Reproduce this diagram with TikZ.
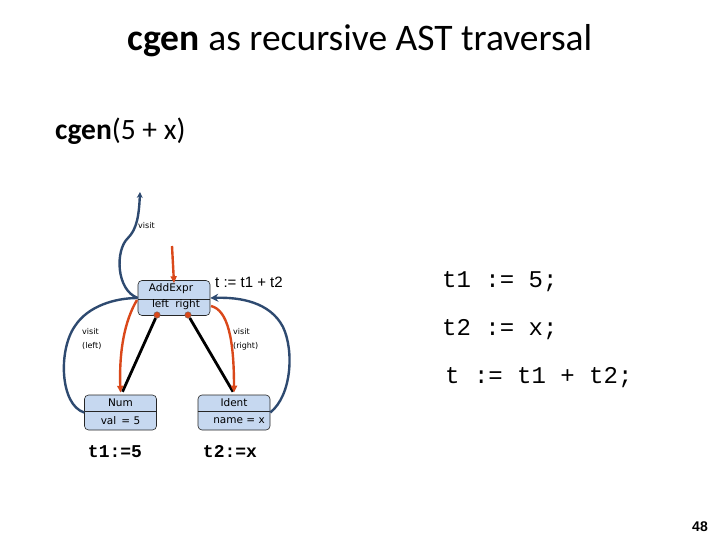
\documentclass[tikz,border=0pt]{standalone}
\usepackage{fontspec}
\setmainfont{Carlito}
\newfontfamily\diafont{Liberation Sans}
\newfontfamily\boxfont{DejaVu Sans}
\newfontfamily\codefont{Liberation Mono}
\usetikzlibrary{arrows.meta}
\definecolor{bluel}{RGB}{46,74,112}
\definecolor{oran}{RGB}{218,72,26}
\definecolor{boxfill}{RGB}{198,216,240}
\begin{document}
\begin{tikzpicture}[x=1pt,y=-1pt,
  astbox/.style={draw=black!85, line width=0.6pt, fill=boxfill, rounded corners=4pt, minimum width=72pt, minimum height=35pt, inner sep=0pt},
  boxtxt/.style={font=\boxfont\fontsize{10.5}{12}\selectfont, inner sep=0pt},
  small/.style={font=\boxfont\fontsize{8}{14}\selectfont, inner sep=0pt, align=left},
  bluearc/.style={draw=bluel, line width=2.4pt},
  orarc/.style={draw=oran, line width=2.4pt, -{Triangle[length=7pt,width=6pt]}},
  tree/.style={draw=black, line width=2.8pt},
  dot/.style={circle, fill=oran, draw=black!60, line width=0.4pt, minimum size=6.5pt, inner sep=0pt},
  code/.style={font=\codefont\fontsize{24}{26}\selectfont, anchor=west, inner sep=0pt},
  bcode/.style={font=\codefont\bfseries\fontsize{18}{20}\selectfont, inner sep=0pt}]
\useasboundingbox (0,0) rectangle (720,540);

\node (title) at (360,41) {\fontsize{37.5}{40}\selectfont\textbf{cgen} as recursive AST traversal};
\node[anchor=west, inner sep=0pt] (call) at (55,131) {\fontsize{29.5}{32}\selectfont\textbf{cgen}(5 + x)};

% boxes
\node[astbox] (add) at (174,298) {};
\draw[black!85, line width=0.6pt] ([yshift=-1.5pt]add.west) -- ([yshift=-1.5pt]add.east);
\node[boxtxt] (addt) at (171,289) {AddExpr};
\node[boxtxt] (addb) at (176,305) {left\hspace{0.6em}right};

\node[astbox] (num) at (120.5,412.5) {};
\draw[black!85, line width=0.6pt] ([yshift=1.5pt]num.west) -- ([yshift=1.5pt]num.east);
\node[boxtxt] (numt) at (120.5,403) {Num};
\node[boxtxt] (numb) at (120.5,421) {val\,\ = 5};

\node[astbox] (ident) at (234,412.5) {};
\draw[black!85, line width=0.6pt] ([yshift=1.5pt]ident.west) -- ([yshift=1.5pt]ident.east);
\node[boxtxt] (idt) at (234,403) {Ident};
\node[boxtxt] (idb) at (239,421) {name = x};

% tree edges
\node[dot] (dl) at (157,315) {};
\node[dot] (dr) at (188,315) {};
\draw[tree] (dl) -- ([xshift=2pt,yshift=3pt]num.north);
\draw[tree] (dr) -- ([xshift=-1pt,yshift=3pt]ident.north);

% blue visit arcs
\coordinate (up) at (140,192);
\draw[bluel, line width=2.4pt, -{Stealth[length=6pt,width=6pt]}] (add.west) .. controls (116,290) and (115,250) .. (128,238) .. controls (137,229) and (139,215) .. (up);
\draw[bluearc] (num.west) .. controls (60,405) and (58,350) .. (75,326) .. controls (88,306) and (115,298) .. (add.west);
\draw[bluel, line width=2.4pt, -{Stealth[length=8pt,width=8pt]}] (ident.east) .. controls (292,395) and (294,350) .. (283,327) .. controls (270,302) and (240,297) .. (add.east);

% orange arcs
\coordinate (rin) at (172,246);
\draw[orarc] (rin) -- ([yshift=-3pt]add.north);
\coordinate (lout) at (137,300);
\draw[orarc] (lout) .. controls (125,320) and (119,350) .. ([yshift=2pt]num.north);
\coordinate (rout) at (211,306);
\draw[orarc] (rout) .. controls (228,310) and (234,340) .. ([yshift=2pt]ident.north);

% labels
\node[small, anchor=west] (v0) at (138,226) {visit};
\node[small, anchor=north west] (vl) at (82,328) {visit\\(left)};
\node[small, anchor=north west] (vr) at (233,328) {visit\\(right)};
\node[font=\diafont\fontsize{15}{16}\selectfont, anchor=west, inner sep=0pt] (tt) at (215,282) {t := t1 + t2};

\node[bcode] (c1) at (115,452) {t1:=5};
\node[bcode] (c2) at (230,452) {t2:=x};

\node[code] (r1) at (442,282) {t1 := 5;};
\node[code] (r2) at (442,330) {t2 := x;};
\node[code] (r3) at (445,378) {t := t1 + t2;};

\node[font=\diafont\bfseries\fontsize{14}{14}\selectfont, inner sep=0pt] (pg) at (700,527) {48};
\end{tikzpicture}
\end{document}
